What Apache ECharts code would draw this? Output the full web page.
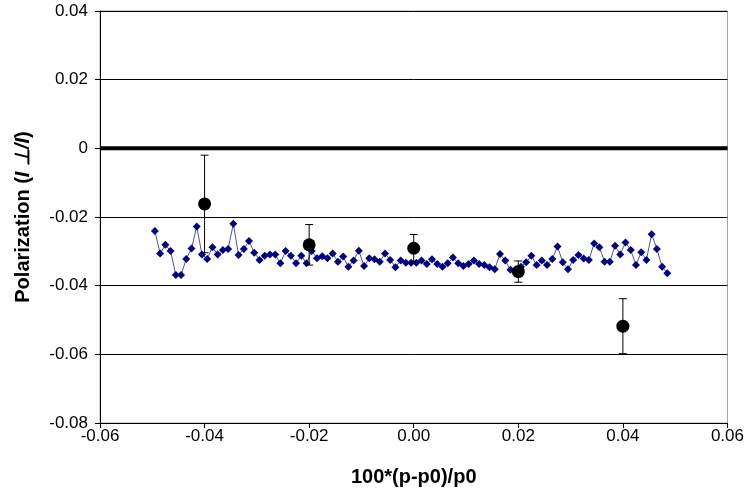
<!DOCTYPE html>
<html>
<head>
<meta charset="utf-8">
<script src="https://cdn.jsdelivr.net/npm/echarts@6/dist/echarts.min.js"></script>
<style>html,body{margin:0;padding:0;background:#fff}#c{width:747px;height:497px}</style>
</head>
<body>
<div id="c"></div>
<script>
// Blue diamond series (x, y)
var scanX = [-0.0495,-0.0485,-0.0475,-0.0465,-0.0455,-0.0445,-0.0435,-0.0425,-0.0415,-0.0405,
  -0.0395,-0.0385,-0.0375,-0.0365,-0.0355,-0.0345,-0.0335,-0.0325,-0.0315,-0.0305,
  -0.0295,-0.0285,-0.0275,-0.0265,-0.0255,-0.0245,-0.0235,-0.0225,-0.0215,-0.0205,
  -0.0195,-0.0185,-0.0175,-0.0165,-0.0155,-0.0145,-0.0135,-0.0125,-0.0115,-0.0105,
  -0.0095,-0.0085,-0.0075,-0.0065,-0.0055,-0.0045,-0.0035,-0.0025,-0.0015,-0.0005,
  0.0005,0.0015,0.0025,0.0035,0.0045,0.0055,0.0065,0.0075,0.0085,0.0095,
  0.0105,0.0115,0.0125,0.0135,0.0145,0.0155,0.0165,0.0175,0.0185,0.0195,
  0.0205,0.0215,0.0225,0.0235,0.0245,0.0255,0.0265,0.0275,0.0285,0.0295,
  0.0305,0.0315,0.0325,0.0335,0.0345,0.0355,0.0365,0.0375,0.0385,0.0395,
  0.0405,0.0415,0.0425,0.0435,0.0445,0.0455,0.0465,0.0475,0.0485];
var scanY = [-0.0241,-0.0306,-0.0281,-0.0299,-0.0369,-0.0369,-0.0322,-0.0292,-0.0228,-0.0309,
  -0.0322,-0.0288,-0.0309,-0.0296,-0.0293,-0.0220,-0.0311,-0.0293,-0.0270,-0.0304,
  -0.0325,-0.0313,-0.0309,-0.0309,-0.0335,-0.0299,-0.0313,-0.0335,-0.0313,-0.0335,
  -0.0299,-0.0320,-0.0314,-0.0320,-0.0306,-0.0330,-0.0315,-0.0345,-0.0327,-0.0298,
  -0.0343,-0.0320,-0.0323,-0.0330,-0.0306,-0.0325,-0.0346,-0.0327,-0.0333,-0.0333,
  -0.0333,-0.0327,-0.0337,-0.0323,-0.0337,-0.0345,-0.0335,-0.0318,-0.0335,-0.0343,
  -0.0337,-0.0327,-0.0337,-0.0340,-0.0346,-0.0352,-0.0308,-0.0327,-0.0354,-0.0356,
  -0.0345,-0.0332,-0.0313,-0.0340,-0.0327,-0.0340,-0.0322,-0.0286,-0.0332,-0.0352,
  -0.0325,-0.0311,-0.0321,-0.0325,-0.0277,-0.0288,-0.0330,-0.0330,-0.0284,-0.0309,
  -0.0274,-0.0296,-0.0340,-0.0303,-0.0325,-0.0250,-0.0293,-0.0345,-0.0364];

// Black points with symmetric error bars
var ptX = [-0.04, -0.02, 0.00, 0.02, 0.04];
var ptY = [-0.0162, -0.0281, -0.0291, -0.0359, -0.0518];
var ptErr = [0.0142, 0.0059, 0.0040, 0.0031, 0.0080];

var xTicks = ['-0.06','-0.04','-0.02','0.00','0.02','0.04','0.06'];

var scanData = scanX.map(function(x,i){return [x, scanY[i]];});
var ptData = ptX.map(function(x,i){return [x, ptY[i]];});
var errData = ptX.map(function(x,i){return [x, ptY[i], ptErr[i]];});

var chart = echarts.init(document.getElementById('c'), null, {renderer:'canvas'});
var FONT = '"Liberation Sans", Arial, sans-serif';
chart.setOption({
  animation: false,
  backgroundColor: '#fff',
  grid: {left: 100, right: 19, top: 11, bottom: 74, show: true, borderColor: '#a0a0a0', borderWidth: 1},
  xAxis: {
    type: 'value', min: -0.06, max: 0.06, interval: 0.02,
    name: '100*(p-p0)/p0', nameLocation: 'middle', nameGap: 44,
    nameTextStyle: {fontFamily: FONT, fontSize: 20, fontWeight: 'bold', color: '#000'},
    axisLine: {onZero: false, lineStyle: {color: '#000', width: 1}},
    axisTick: {show: true, inside: false, length: 5, lineStyle: {color: '#000'}},
    axisLabel: {fontFamily: FONT, fontSize: 17, color: '#000', margin: 5,
      formatter: function(v){ var i = Math.round((v + 0.06) / 0.02); return xTicks[i]; }},
    splitLine: {show: false}
  },
  yAxis: {
    type: 'value', min: -0.08, max: 0.04, interval: 0.02,
    name: '{a|Polarization (}{b|I ⊥/I}{a|)}', nameLocation: 'middle', nameGap: 67,
    nameTextStyle: {fontFamily: FONT, fontSize: 20, fontWeight: 'bold', color: '#000',
      rich: {a: {fontFamily: FONT, fontSize: 20, fontWeight: 'bold', color: '#000'},
             b: {fontFamily: FONT, fontSize: 20, fontWeight: 'bold', fontStyle: 'italic', color: '#000'}}},
    axisLine: {show: true, onZero: false, lineStyle: {color: '#000', width: 1}},
    axisTick: {show: true, inside: false, length: 5, lineStyle: {color: '#000'}},
    axisLabel: {fontFamily: FONT, fontSize: 17, color: '#000', margin: 12,
      formatter: function(v){ if (Math.abs(v) < 1e-9) return '0'; return v.toFixed(2); }},
    splitLine: {show: true, lineStyle: {color: '#000', width: 1}}
  },
  series: [
    {
      type: 'line', data: [[-0.06, 0], [0.06, 0]], symbol: 'none', z: 2,
      lineStyle: {color: '#000', width: 4}, silent: true
    },
    {
      type: 'line', data: scanData, z: 3,
      symbol: 'diamond', symbolSize: 8,
      itemStyle: {color: '#000080', opacity: 1},
      lineStyle: {color: '#5050b0', width: 1}
    },
    {
      type: 'custom', data: errData, z: 4,
      renderItem: function(params, api){
        var x = api.value(0), y = api.value(1), e = api.value(2);
        var top = api.coord([x, y + e]);
        var bot = api.coord([x, y - e]);
        var w = 4;
        var st = {stroke: '#000', lineWidth: 1};
        return {type: 'group', children: [
          {type: 'line', shape: {x1: top[0], y1: top[1], x2: bot[0], y2: bot[1]}, style: st},
          {type: 'line', shape: {x1: top[0]-w, y1: top[1], x2: top[0]+w, y2: top[1]}, style: st},
          {type: 'line', shape: {x1: bot[0]-w, y1: bot[1], x2: bot[0]+w, y2: bot[1]}, style: st}
        ]};
      }
    },
    {
      type: 'scatter', data: ptData, z: 5,
      symbol: 'circle', symbolSize: 13,
      itemStyle: {color: '#000', opacity: 1}
    }
  ]
});
</script>
</body>
</html>
